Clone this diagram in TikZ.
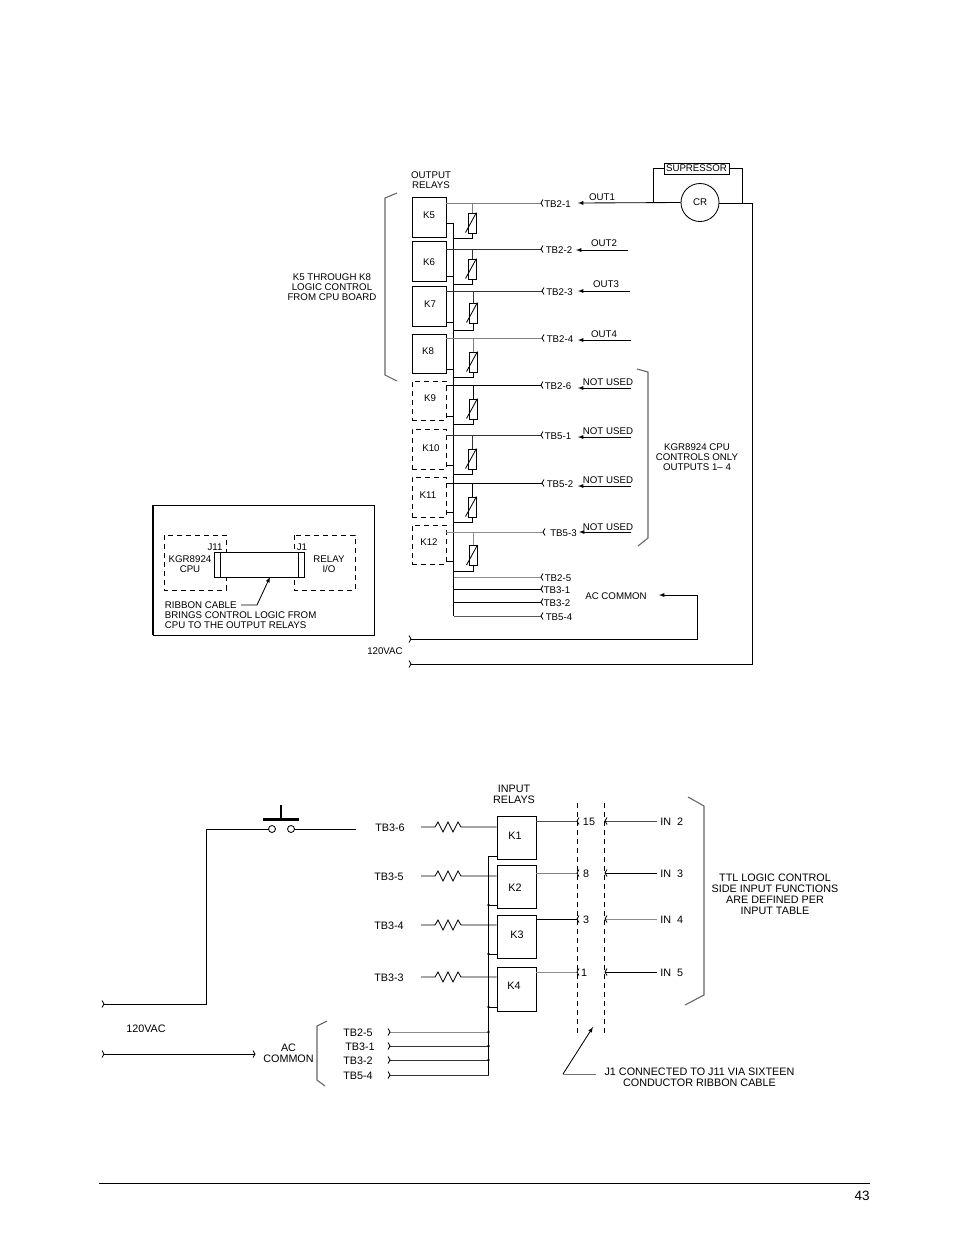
\documentclass[tikz,border=0pt]{standalone}
\usepackage{fontspec}
\setmainfont{Liberation Sans}
\usetikzlibrary{calc}
\tikzset{
  lbl/.style={inner sep=0pt,align=center,font=\fontsize{9.7}{10}\selectfont},
  lbltb/.style={lbl,yshift=-0.8pt},
  lblbig/.style={inner sep=0pt,align=center,yshift=-0.8pt,font=\fontsize{10.8}{11}\selectfont},
  relaybox/.style={draw,minimum width=34pt,inner sep=0pt},
  sparebox/.style={relaybox,dashed,dash pattern=on 5pt off 4pt},
  inbox/.style={draw,minimum width=39pt,inner sep=0pt},
  wire/.style={line width=0.85pt},
  brace/.style={line width=1.1pt,black!60},
  varbox/.style={draw,fill=white,minimum width=8pt,minimum height=20pt,inner sep=0pt}
}
\newcommand{\ChevL}[1]{\draw[wire] (#1) ++(2,-3.5) -- ++(-2,3.5) -- ++(2,3.5);}
\newcommand{\ChevR}[1]{\draw[wire] (#1) ++(-2,-3.5) -- ++(2,3.5) -- ++(-2,3.5);}
\begin{document}
\begin{tikzpicture}[x=1pt,y=-1pt,wire]
\useasboundingbox (0,0) rectangle (954,1235);
% output relays
\foreach \Rly/\Mid/\Ht/\NX/\NY in {K5/217/40/429/214, K6/261/40/429/261.5, K7/306/40/430/303.5, K8/353.5/39/428/350.5}{
  \node[relaybox,minimum height=\Ht pt] (\Rly) at (429,\Mid) {};
  \node[lbltb] (n\Rly) at (\NX,\NY) {\Rly};
}
\foreach \Rly/\Mid/\Ht/\NX/\NY in {K9/400.5/39/430/397, K10/449/40/431/447.5, K11/497/40/428/494, K12/544.5/39/429/541.5}{
  \node[sparebox,minimum height=\Ht pt] (\Rly) at (429,\Mid) {};
  \node[lbltb] (n\Rly) at (\NX,\NY) {\Rly};
}
\node[lbl] (hdout) at (431,180) {OUTPUT\\RELAYS};
\coordinate (bustop) at (453.5,223);
\coordinate (busend) at (453.5,616);
\draw (bustop) -- (busend);
\foreach \Rly/\Top/\Stub/\VX/\VMid/\VBot/\Tb/\TbX/\TbMid/\Col in {
  K5/203/223/472/223/238/TB2-1/541/557.5/black!50,
  K6/249/276/472/269/284/TB2-2/541/559/black!80,
  K7/291/322/473/313/330/TB2-3/542/559.5/black!80,
  K8/338/369/473/362/377/TB2-4/542/560/black!50,
  K9/385/416/473/409/424/TB2-6/541/558/black,
  K10/435/465/472/459/474/TB5-1/541/558/black!80,
  K11/483/512/472/507/522/TB5-2/542/560/black,
  K12/532/561/473/555.5/571/TB5-3/543/563.5/black!45}{
  \coordinate (t\Rly) at (\TbX,\Top);
  \draw[color=\Col] (\Rly.east |- t\Rly) -- (t\Rly);
  \ChevL{t\Rly}
  \draw (\Rly.east |- 0,\Stub) -- (453.5,\Stub);
  \node[varbox] (v\Rly) at (\VX,\VMid) {};
  \draw[color=\Col] (\VX,\Top) -- (v\Rly.north);
  \draw (v\Rly.south) -- (\VX,\VBot) -- (453.5,\VBot);
  \draw ($(v\Rly.south west)+(-2,-1)$) -- ($(v\Rly.north east)+(0,0)$);
  \node[lbltb] (l\Rly) at (\TbMid,\Top) {\Tb};
}
\foreach \Tb/\Y/\TbMid/\Col in {TB2-5/577/558/black!45, TB3-1/589/557/black, TB3-2/602/557/black, TB5-4/616/559/black!65}{
  \coordinate (t\Tb) at (541,\Y);
  \draw[color=\Col] (453.5,\Y) -- (t\Tb);
  \ChevL{t\Tb}
  \node[lbltb] (l\Tb) at (\TbMid,\Y) {\Tb};
}
% incoming control lines
\node[draw,circle,minimum size=38pt,inner sep=0pt,font=\fontsize{9.7}{10}\selectfont] (CR) at (700,202.5) {CR};
\node[draw,lbl,inner sep=1pt,minimum width=65pt,minimum height=11pt] (SUP) at (696.5,168.5) {SUPRESSOR};
\coordinate (tipone) at (578,203);
\draw[-latex] (CR.west) -- (tipone);
\draw (SUP.west) -| (653,203);
\draw (SUP.east) -| (742,203);
\foreach \Tip/\Tail/\Y/\LX/\LY/\Txt in {
  576/628/250/604/243/OUT2, 578/630/291/606/284/OUT3, 578/631/340/604/334/OUT4,
  578/631/388/608/382/NOT USED, 578/631/437/608/431/NOT USED,
  578/631/486/608/480/NOT USED, 579/631/532/608/527/NOT USED}{
  \draw[-latex] (\Tail,\Y) -- (\Tip,\Y);
  \node[lbl] at (\LX,\LY) {\Txt};
}
\node[lbl] (lout) at (602,197) {OUT1};
\draw[brace] (397,193) -- (385,198) -- (385,375) -- (397,381);
\node[lbl] (lkfive) at (332,287.5) {K5 THROUGH K8\\LOGIC CONTROL\\FROM CPU BOARD};
\draw[brace] (637,369) -- (648,372) -- (648,538) -- (638,546);
\node[lbl] (lkgr) at (697,457) {KGR8924 CPU\\CONTROLS ONLY\\OUTPUTS 1-- 4};
% AC supply
\node[lbl] (lac) at (616,596) {AC COMMON};
\node[lbl] (lvac) at (385,651) {120VAC};
\coordinate (acin) at (411,639);
\coordinate (acout) at (411,664);
\draw[-latex] (acin) -| (697,595) -- (659,595);
\draw (CR.east |- tipone) -| (752,664) -- (acout);
\ChevR{acin}
\ChevR{acout}
% inset
\draw[line width=1pt] (153,505) rectangle (374,635);
\draw[line width=1.6pt] (153,505) -- (153,635);
\draw[dashed,dash pattern=on 5pt off 4pt] (164,535) rectangle (226,590);
\draw[dashed,dash pattern=on 5pt off 4pt] (294,535) rectangle (355,590);
\node[draw,fill=white,minimum width=90pt,minimum height=25pt,inner sep=0pt] (cable) at (259,564.5) {};
\draw (220.7,552) -- (220.7,577);
\draw (298,552) -- (298,577);
\node[lbl] (jeleven) at (215,547) {J11};
\node[lbl] (jone) at (302,547) {J1};
\node[lbltb] (lcpu) at (190,563.5) {KGR8924\\CPU};
\node[lbl] (lrel) at (329,564.5) {RELAY\\I/O};
\node[lbltb,align=left,anchor=north west] (lrib) at (164.5,600) {RIBBON CABLE\\BRINGS CONTROL LOGIC FROM\\CPU TO THE OUTPUT RELAYS};
\draw[-latex] (241,605) -- (257,605) -- (270,577);
% input relays
\foreach \Rly/\Mid/\Ht/\NX/\NY in {K1/837.5/43/515/835, K2/886.5/43/515/887, K3/936.5/43/517/933.5, K4/989/44/514/985}{
  \node[inbox,minimum height=\Ht pt] (\Rly) at (516.5,\Mid) {};
  \node[lblbig] (n\Rly) at (\NX,\NY) {\Rly};
}
\node[lblbig] (hdin) at (514,794) {INPUT\\RELAYS};
\coordinate (ibustop) at (488.5,856);
\coordinate (ibusend) at (488.5,1075);
\draw (ibustop) -- (ibusend);
\draw (K1.west |- ibustop) -- (ibustop);
\foreach \Rly/\Stub in {K2/905, K3/954, K4/1007}{
  \draw (\Rly.west |- 0,\Stub) -- (488.5,\Stub);
  \fill (488.5,\Stub) circle (1.3);
}
\foreach \Rly/\Y/\Tb/\LX in {K1/827/TB3-6/390, K2/876/TB3-5/389, K3/925/TB3-4/389, K4/977/TB3-3/389}{
  \node[lblbig] (l\Rly) at (\LX,\Y) {\Tb};
  \draw (421,\Y) -- (435,\Y) -- ++(3,-5) -- ++(5,10) -- ++(5,-10) -- ++(5,10) -- ++(5,-10) -- ++(3,5) -- (\Rly.west |- 0,\Y);
}
\draw[dashed,dash pattern=on 5pt off 4pt] (577.5,803) -- (577.5,1033);
\draw[dashed,dash pattern=on 5pt off 4pt] (604.5,803) -- (604.5,1033);
\foreach \Rly/\Y/\Pin/\PX/\In/\Col/\ColB in {K1/821/15/589/IN\ \ 2/black!70/black!70, K2/873/8/586/IN\ \ 3/black!50/black, K3/919/3/586/IN\ \ 4/black/black!45, K4/972/1/584/IN\ \ 5/black!45/black}{
  \coordinate (j\Rly) at (577,\Y);
  \coordinate (i\Rly) at (605,\Y);
  \draw[color=\Col] (\Rly.east |- j\Rly) -- (j\Rly);
  \draw[color=\ColB] (i\Rly) -- (657,\Y);
  \ChevL{j\Rly}
  \ChevL{i\Rly}
  \node[lblbig] (p\Rly) at (\PX,\Y) {\Pin};
  \node[lblbig,anchor=west] (n\Rly) at (660,\Y) {\In};
}
\draw[brace] (688,797) -- (704,806) -- (704,995) -- (685,1005);
\node[lblbig] (lttl) at (775,893.5) {TTL LOGIC CONTROL\\SIDE INPUT FUNCTIONS\\ARE DEFINED PER\\INPUT TABLE};
\coordinate (ribfoot) at (563,1074);
\draw[color=black!55] (596,1074) -- (ribfoot);
\draw[-latex] (ribfoot) -- (593,1027);
\node[lblbig] (ljone) at (699.5,1076.5) {J1 CONNECTED TO J11 VIA SIXTEEN\\CONDUCTOR RIBBON CABLE};
\foreach \Tb/\Y/\LX/\Col in {TB2-5/1032/358/black!45, TB3-1/1046/360/black!80, TB3-2/1060/358/black!80, TB5-4/1075/358/black!80}{
  \coordinate (c\Tb) at (390,\Y);
  \draw[color=\Col] (c\Tb) -- (488.5,\Y);
  \ChevR{c\Tb}
  \node[lblbig] (lc\Tb) at (\LX,\Y) {\Tb};
}
\foreach \Y in {1032,1046,1060}
  \fill (488.5,\Y) circle (1.3);
% pushbutton and supply
\node[draw,circle,minimum size=7pt,inner sep=0pt] (pbl) at (272,829) {};
\node[draw,circle,minimum size=7pt,inner sep=0pt] (pbr) at (291,829) {};
\draw[line width=2.8pt] (263,819.5) -- (299,819.5);
\draw[line width=2pt] (280.5,805) -- (280.5,819);
\coordinate (pbend) at (356,829);
\coordinate (vacone) at (104,1004);
\coordinate (vactwo) at (104,1054);
\coordinate (vacend) at (255,1054);
\draw (pbr) -- (pbend);
\draw (pbl) -| (206,1004) -- (vacone);
\draw (vactwo) -- (vacend);
\ChevR{vacone}
\ChevR{vactwo}
\ChevR{vacend}
\node[lblbig] (lvacb) at (146,1028) {120VAC};
\node[lblbig] (lacb) at (288.5,1052.5) {AC\\COMMON};
\draw[brace] (327,1021) -- (317,1026) -- (317,1080) -- (325,1086);
% page foot
\coordinate (footl) at (99,1183.6);
\coordinate (footr) at (870,1183.6);
\draw[line width=0.7pt] (footl) -- (footr);
\node[inner sep=0pt,font=\fontsize{13.5}{14}\selectfont] (pageno) at (862,1196) {43};
\end{tikzpicture}
\end{document}
